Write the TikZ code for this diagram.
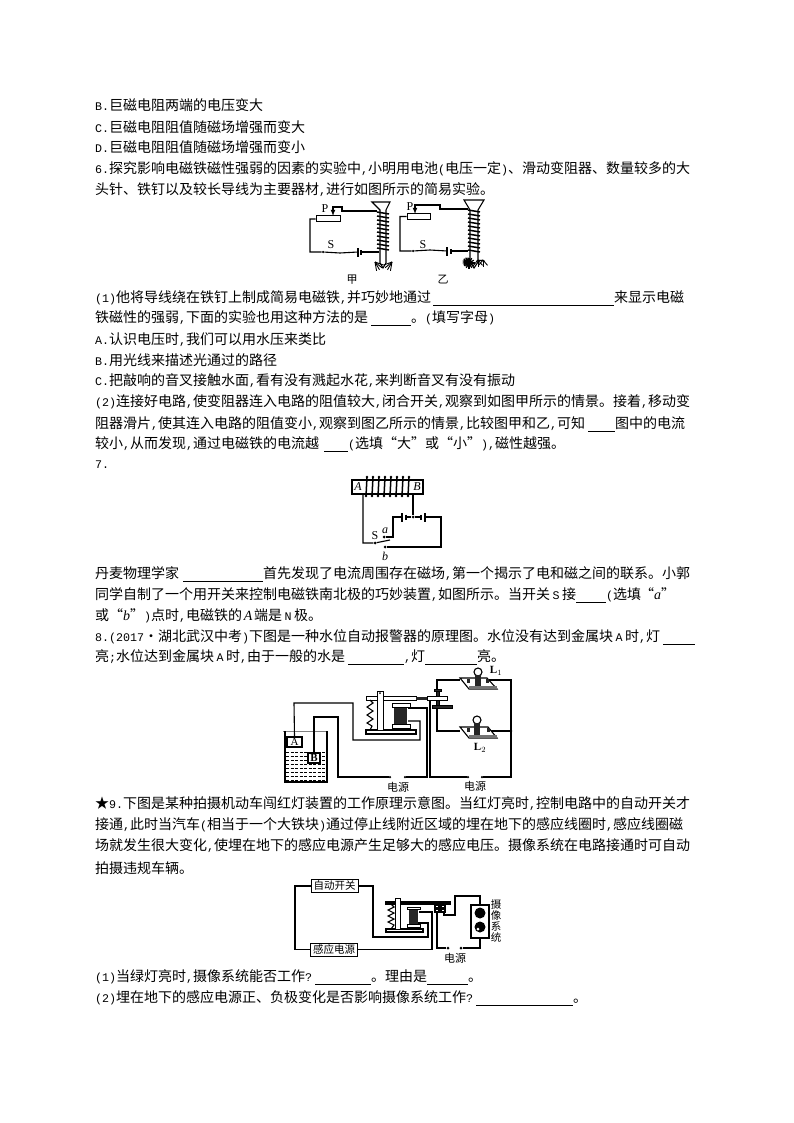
\documentclass[tikz,border=0pt]{standalone}
\usepackage{fontspec}
\setmainfont{Noto Sans CJK SC}
\newfontfamily\labelfont{Liberation Serif}
\newfontfamily\hwfont{Liberation Mono}
\newcommand{\blankline}[1]{\rule[-2.5pt]{#1pt}{0.6pt}}
\newcommand{\itlabel}[1]{{\labelfont\itshape #1}}
\newcommand{\hw}[1]{{\hwfont\fontsize{11.67}{14}\selectfont #1}}
\newcommand{\hwc}{\hw{,}}
\newcommand{\ql}{\makebox[14pt][r]{“}}
\newcommand{\qr}{\makebox[14pt][l]{”}}
\newcommand{\narrow}[1]{\makebox[12pt]{\hw{#1}}}
\tikzset{
    txt/.style={anchor=west,inner sep=0pt,font=\fontsize{14}{14}\selectfont},
    wire/.style={line width=1.1pt},
    part/.style={draw,line width=1pt,fill=white},
    dark/.style={draw,fill=black!85},
    lab/.style={inner sep=0pt,font=\labelfont\fontsize{12}{12}\selectfont},
    itlab/.style={inner sep=0pt,font=\labelfont\itshape\fontsize{12}{12}\selectfont},
    figcap/.style={inner sep=0pt,font=\fontsize{11}{11}\selectfont},
    term/.style={circle,fill=black,inner sep=0pt,minimum size=3pt},
    cbox/.style={draw,line width=1pt,inner sep=0pt,minimum height=13pt,minimum width=47pt,font=\fontsize{10.5}{10.5}\selectfont},
}
\begin{document}
\begin{tikzpicture}[x=1pt,y=-1pt]
    \useasboundingbox (0,0) rectangle (794,1123);

    % text
    \node[txt] (lineB) at (95,105) {\hw{B.}巨磁电阻两端的电压变大};
    \node[txt] (lineC) at (95,127) {\hw{C.}巨磁电阻阻值随磁场增强而变大};
    \node[txt] (lineD) at (95,147) {\hw{D.}巨磁电阻阻值随磁场增强而变小};
    \node[txt] (six) at (95,169) {\hw{6.}探究影响电磁铁磁性强弱的因素的实验中\hwc 小明用电池\hw{(}电压一定\hw{)}、滑动变阻器、数量较多的大};
    \node[txt] (sixb) at (95,190) {头针、铁钉以及较长导线为主要器材\hwc 进行如图所示的简易实验。};
    \node[txt] (sixc) at (95,298) {\hw{(1)}他将导线绕在铁钉上制成简易电磁铁\hwc 并巧妙地通过\hspace{2pt}\blankline{181}来显示电磁};
    \node[txt] (sixd) at (95,318) {铁磁性的强弱\hwc 下面的实验也用这种方法的是\hspace{3pt}\blankline{40}。\hw{(}填写字母\hw{)}};
    \node[txt] (sixA) at (95,340) {\hw{A.}认识电压时\hwc 我们可以用水压来类比};
    \node[txt] (sixB) at (95,360) {\hw{B.}用光线来描述光通过的路径};
    \node[txt] (sixC) at (95,381) {\hw{C.}把敲响的音叉接触水面\hwc 看有没有溅起水花\hwc 来判断音叉有没有振动};
    \node[txt] (sixe) at (95,402) {\hw{(2)}连接好电路\hwc 使变阻器连入电路的阻值较大\hwc 闭合开关\hwc 观察到如图甲所示的情景。接着\hwc 移动变};
    \node[txt] (sixf) at (95,424) {阻器滑片\hwc 使其连入电路的阻值变小\hwc 观察到图乙所示的情景\hwc 比较图甲和乙\hwc 可知\hspace{3pt}\blankline{27}图中的电流};
    \node[txt] (sixg) at (95,444) {较小\hwc 从而发现\hwc 通过电磁铁的电流越\hspace{5pt}\blankline{24}\hw{(}选填\ql 大\qr 或\ql 小\qr\hw{)}\hwc 磁性越强。};
    \node[txt] (seven) at (95,465) {\hw{7.}};
    \node[txt] (sevenb) at (95,574) {丹麦物理学家\hspace{4pt}\blankline{80}首先发现了电流周围存在磁场\hwc 第一个揭示了电和磁之间的联系。小郭};
    \node[txt] (sevenc) at (95,595) {同学自制了一个用开关来控制电磁铁南北极的巧妙装置\hwc 如图所示。当开关\narrow{S}接\blankline{30}\hw{(}选填\hspace{3pt}\makebox[10pt][r]{“}\itlabel{a}\makebox[10pt][l]{”}};
    \node[txt] (sevend) at (95,616) {或\ql\itlabel{b}\qr\hw{)}点时\hwc 电磁铁的\makebox[12pt]{\itlabel{A}}端是\narrow{N}极。};
    \node[txt] (eight) at (95,637) {\hw{8.(2017}\makebox[14pt]{·}湖北武汉中考\hw{)}下图是一种水位自动报警器的原理图。水位没有达到金属块\narrow{A}时\hwc 灯\hspace{3pt}\blankline{32}};
    \node[txt] (eightb) at (95,657) {亮\hw{;}水位达到金属块\narrow{A}时\hwc 由于一般的水是\hspace{3pt}\blankline{56}\hwc 灯\blankline{52}亮。};
    \node[txt] (nine) at (95,804) {★\hw{9.}下图是某种拍摄机动车闯红灯装置的工作原理示意图。当红灯亮时\hwc 控制电路中的自动开关才};
    \node[txt] (nineb) at (95,825) {接通\hwc 此时当汽车\hw{(}相当于一个大铁块\hw{)}通过停止线附近区域的埋在地下的感应线圈时\hwc 感应线圈磁};
    \node[txt] (ninec) at (95,846) {场就发生很大变化\hwc 使埋在地下的感应电源产生足够大的感应电压。摄像系统在电路接通时可自动};
    \node[txt] (nined) at (95,868) {拍摄违规车辆。};
    \node[txt] (ninee) at (95,977) {\hw{(1)}当绿灯亮时\hwc 摄像系统能否工作\hw{?}\hspace{3pt}\blankline{56}。理由是\blankline{41}。};
    \node[txt] (ninef) at (95,998) {\hw{(2)}埋在地下的感应电源正、负极变化是否影响摄像系统工作\hw{?}\hspace{3pt}\blankline{97}。};

    % first figure, left circuit
    \draw[wire] (372,202) -- (390,202) -- (386,210) -- (386,263) -- (383,268) -- (380,263) -- (380,210) -- cycle;
    \foreach \y in {212,216,...,248}
        \draw[line width=1.5pt] (377,\y) -- (389,\y+2);
    \node[draw,line width=1pt,minimum width=24pt,minimum height=6pt,inner sep=0pt] (rheoL) at (328,219) {};
    \node[lab] (pL) at (325,209) {P};
    \node[lab] (sL) at (331,245) {S};
    \node[term,minimum size=2.5pt] (swL) at (323,252) {};
    \coordinate (cellLa) at (358,252);
    \coordinate (cellLb) at (361,252);
    \draw[wire,-latex] (377,211) -- (342,211) -- (342,207) -- (333,207) -- (333,216);
    \draw[wire] (rheoL.west) -- (310,219) -- (310,252) -- (swL) -- (340,253) -- (cellLa);
    \draw[wire] (cellLb) -- (379,252);
    \draw[line width=1.2pt] (358,248) -- (358,257);
    \draw[line width=1.8pt] (361,250) -- (361,255);
    \foreach \a in {20,40,60,80}{
        \draw[line width=0.9pt] (375,262) -- ++(\a:9);
        \draw[line width=0.9pt] (392,262) -- ++(180-\a:9);
    }
    \node[figcap] (jia) at (352,280) {甲};

    % first figure, right circuit
    \draw[wire] (464,200) -- (484,200) -- (478,210) -- (478,262) -- (474,268) -- (470,262) -- (470,210) -- cycle;
    \foreach \y in {210,214,...,250}
        \draw[line width=1.5pt] (468,\y) -- (480,\y+2);
    \node[draw,line width=1pt,minimum width=23pt,minimum height=6pt,inner sep=0pt] (rheoR) at (418.5,216.5) {};
    \node[lab] (pR) at (410,207) {P};
    \node[lab] (sR) at (423,245) {S};
    \node[term,minimum size=2.5pt] (swR) at (413,251) {};
    \coordinate (cellRa) at (447,251);
    \coordinate (cellRb) at (451,251);
    \draw[wire,-latex] (468,209) -- (440,209) -- (440,205) -- (415,205) -- (415,214);
    \draw[wire] (rheoR.west) -- (400,216.5) -- (400,251) -- (swR) -- (430,250) -- (cellRa);
    \draw[wire] (cellRb) -- (468,251);
    \draw[line width=1.2pt] (447,247) -- (447,256);
    \draw[line width=1.8pt] (451,249) -- (451,254);
    \foreach \a in {0,30,...,330}{
        \draw[line width=1.2pt] (469,263) -- ++(\a:5.5);
        \draw[line width=1.2pt] (467,262) -- ++(\a+15:4.5);
    }
    \foreach \a in {10,50,90,130}{
        \draw[line width=0.9pt] (478,260) -- ++(\a:7);
        \draw[line width=0.9pt] (483,260) -- ++(\a+40:7);
    }
    \node[figcap] (yi) at (443,280) {乙};

    % second figure
    \node[draw,line width=1.1pt,minimum width=71pt,minimum height=14pt,inner sep=0pt] (core) at (387.5,487) {};
    \node[itlab] (endA) at (358,487) {A};
    \node[itlab] (endB) at (417,487) {B};
    \foreach \x in {366,372,...,408}{
        \draw[line width=1.5pt] (\x+1,477) -- (\x,496);
        \fill (\x+1,477) circle (1.3pt);
        \fill (\x,496) circle (1.3pt);
    }
    \node[term] (swS) at (375,543) {};
    \node[term] (ptA) at (384,537) {};
    \node[term] (ptB) at (385,547) {};
    \node[term] (mid) at (413,517) {};
    \node[lab] (labS) at (375,536) {S};
    \node[itlab] (laba) at (385,531) {a};
    \node[itlab] (labb) at (385,556) {b};
    \coordinate (cellA) at (402,517);
    \coordinate (cellB) at (406,517);
    \coordinate (cellC) at (421,517);
    \coordinate (cellD) at (425,517);
    \draw[wire] (363,494) -- (363,543) -- (swS) -- (390,540);
    \draw[wire] (ptA) -- (393,537) -- (393,517) -- (cellA);
    \draw[wire] (cellB) -- (mid) -- (cellC);
    \draw[wire] (cellD) -- (441,517) -- (441,547) -- (ptB);
    \draw[wire] (mid) -- (413,494);
    \draw[line width=1.2pt] (402,513) -- (402,522);
    \draw[line width=1.8pt] (406,514.5) -- (406,519.5);
    \draw[line width=1.8pt] (421,514.5) -- (421,519.5);
    \draw[line width=1.2pt] (425,513) -- (425,522);

    % third figure, water tank
    \draw[black!50,line width=0.6pt] (283,731) -- (327,731);
    \draw[wire] (285,731) -- (285,782) -- (327,782) -- (327,731);
    \foreach \y in {752,756,...,780}
        \draw[line width=0.9pt,dash pattern=on 3pt off 1.5pt] (286,\y) -- (326,\y);
    \node[draw,line width=1.1pt,fill=white,minimum width=15pt,minimum height=10pt,inner sep=0pt,font=\labelfont\fontsize{11}{11}\selectfont] (metalA) at (294.5,742) {A};
    \node[draw,line width=1.2pt,fill=white,minimum width=12pt,minimum height=10pt,inner sep=0pt,font=\labelfont\bfseries\fontsize{11}{11}\selectfont] (metalB) at (314,758) {B};
    \node[term,minimum size=2.5pt] (srcAa) at (390,777) {};
    \node[term,minimum size=2.5pt] (srcAb) at (405,777) {};
    \node[term,minimum size=2.5pt] (srcBa) at (468,777) {};
    \node[term,minimum size=2.5pt] (srcBb) at (482,777) {};
    \node[term,minimum size=2.5pt] (junc) at (511,731) {};
    \node[figcap] (srcAt) at (398,787) {电源};
    \node[figcap] (srcBt) at (475,786) {电源};
    \draw[wire] (metalA.north) -- (294,703) -- (353,703) -- (353,740) -- (420,740) -- (420,721) -- (408,721);
    \draw[wire] (metalB.north) -- (314,717) -- (338,717) -- (338,777) -- (srcAa);
    \draw[wire] (srcAb) -- (427,777) -- (427,708) -- (408,708);

    % third figure, relay
    \draw[wire] (366,730) rectangle (416,734);
    \draw[part] (366,696) rectangle (416,700);
    \draw[part] (377,691) rectangle (383,730);
    \fill (380,693) circle (1pt);
    \draw[wire] (370,700) -- (373,703) -- (367,707) -- (373,711) -- (367,715) -- (373,719) -- (367,723) -- (372,726) -- (370,730);
    \fill[black!85] (394,707) rectangle (407,725);
    \draw[part] (392,703) rectangle (410,707);
    \draw[part] (392,724) rectangle (410,728);
    \fill[black!85] (416,696.5) rectangle (427,699.5);
    \draw[part] (427,696) rectangle (447,700);
    \draw[dark] (434,689) rectangle (441,691);
    \draw[dark] (436,691) rectangle (439,696);
    \draw[dark] (436,700) rectangle (439,705);
    \draw[dark] (432,705) rectangle (452,708);
    \coordinate (topC) at (437,689);
    \coordinate (lowC) at (437,708);
    \draw[wire] (430,700) -- (430,777) -- (srcBa);
    \draw[wire] (srcBb) -- (511,777) -- (511,680) -- (487,680);
    \draw[wire] (topC) -- (437,680) -- (460,680);
    \draw[wire] (lowC) -- (437,731) -- (460,731);
    \draw[wire] (junc) -- (488,731);

    % third figure, lamps
    \draw[wire,fill=white] (460,678) -- (487,678) -- (497,689) -- (469,689) -- cycle;
    \draw[wire,fill=white] (460,727) -- (488,727) -- (497,738) -- (469,738) -- cycle;
    \fill[black!55] (469,686) rectangle (497,689);
    \fill[black!55] (469,735) rectangle (497,738);
    \fill[black!85] (467,679) rectangle (470,683);
    \fill[black!85] (486,679) rectangle (489,683);
    \fill[black!85] (467,728) rectangle (470,732);
    \fill[black!85] (487,728) rectangle (490,732);
    \draw[wire] (478,672) circle (4);
    \draw[wire] (477,720) circle (4);
    \fill[black!85] (475,675) rectangle (481,686);
    \fill[black!85] (474,723) rectangle (480,735);
    \node[lab,font=\labelfont\bfseries\fontsize{11}{11}\selectfont] (lampA) at (496,671) {L$_1$};
    \node[lab,font=\labelfont\bfseries\fontsize{11}{11}\selectfont] (lampB) at (480,748) {L$_2$};

    % fourth figure
    \node[cbox] (autosw) at (334.5,886) {自动开关};
    \node[cbox] (sensor) at (334,949.5) {感应电源};
    \draw[wire] (autosw.west) -- (295,886) |- (sensor.west);
    \draw[wire] (autosw.east) -- (373,886) -- (373,937) -- (428,937) -- (428,923) -- (418,923);
    \draw[wire] (sensor.east) -- (432,949.5) -- (432,912) -- (419,912);
    \draw[wire] (386,929) rectangle (423,932);
    \draw[wire] (386,902) rectangle (450,904);
    \draw[part] (395,898) rectangle (400,929);
    \draw[wire] (391,904) -- (394,907) -- (388,910) -- (394,913) -- (388,916) -- (394,919) -- (388,922) -- (394,925) -- (391,929);
    \fill[black!85] (409,908) rectangle (418,925);
    \draw[part] (407,907) rectangle (420,909);
    \draw[part] (407,924) rectangle (420,927);
    \draw[wire] (435,905) rectangle (439,908);
    \draw[wire] (441,905) rectangle (445,908);
    \draw[wire] (435,909) rectangle (439,912);
    \draw[wire] (441,909) rectangle (445,912);
    \node[draw,line width=1.5pt,minimum width=18pt,minimum height=33pt,inner sep=0pt] (camera) at (480,921.5) {};
    \fill (480,913) circle (5.5);
    \fill (480,927) circle (5.5);
    \fill[white] (478,929) circle (1.5);
    \node[term] (srcCa) at (448,948) {};
    \node[term] (srcCb) at (461,948) {};
    \node[figcap] (srcCt) at (455,958) {电源};
    \node[figcap,align=center,font=\fontsize{10.5}{11}\selectfont] (camt) at (496,921) {摄\\像\\系\\统};
    \draw[wire] (444,912) -- (444,915) -- (455,915) -- (455,896) -- (480,896) -- (camera.north);
    \draw[wire] (437,912) -- (437,948) -- (srcCa);
    \draw[wire] (srcCb) -- (480,948) -- (camera.south);
\end{tikzpicture}
\end{document}
